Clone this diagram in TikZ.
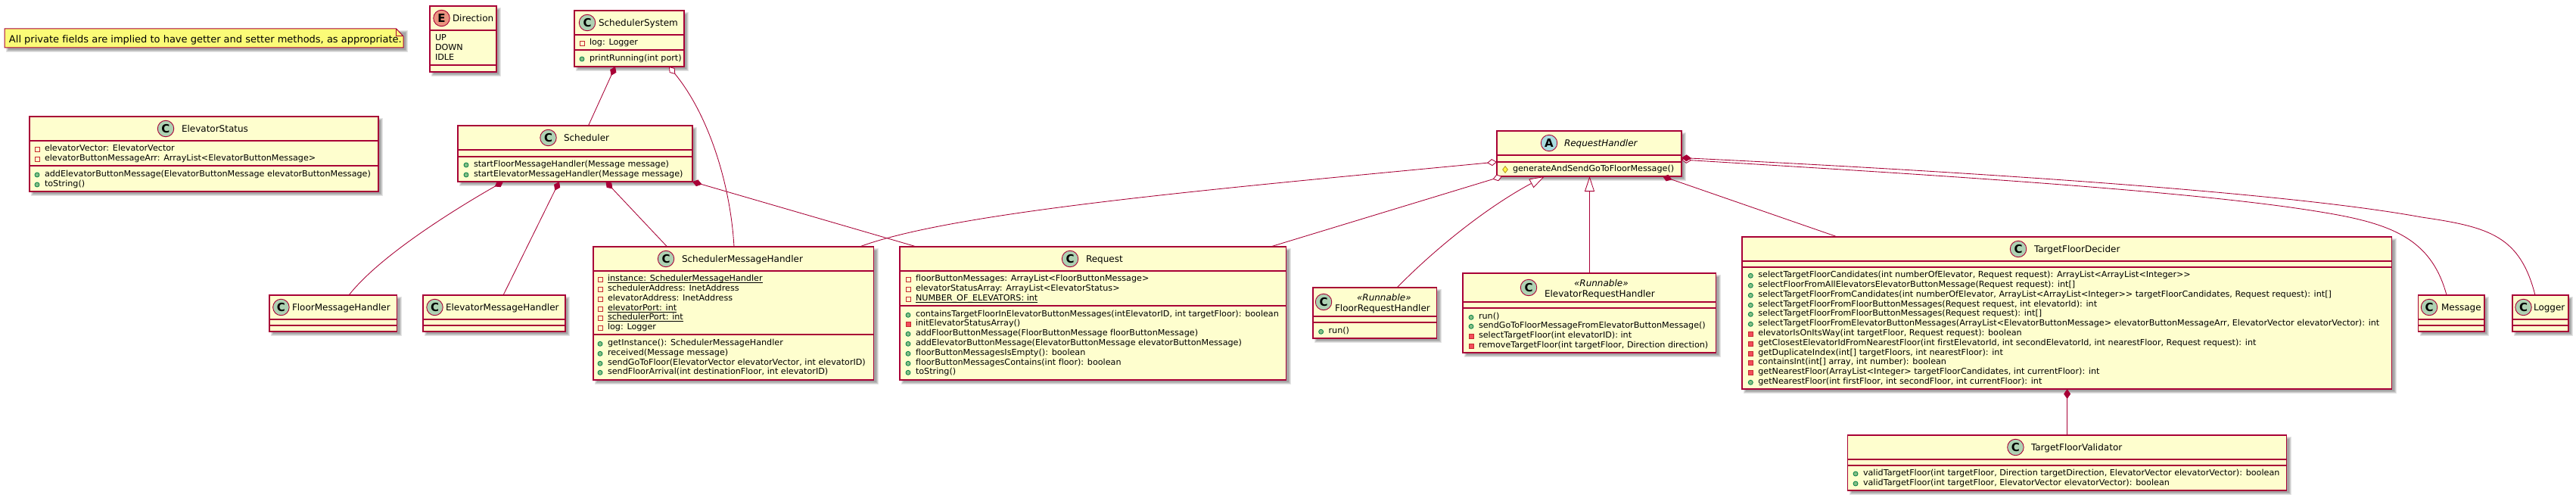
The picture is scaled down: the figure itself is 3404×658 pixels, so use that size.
\documentclass[tikz,border=0pt]{standalone}
\usepackage{fontspec}
\usetikzlibrary{arrows.meta,shapes.geometric}
\newfontfamily\umlfont[Ligatures=NoCommon]{DejaVu Sans}
\newfontfamily\umlrowfont[Ligatures=NoCommon,FakeStretch=1.015]{DejaVu Sans}
\definecolor{umlred}{HTML}{A80036}
\definecolor{umlfill}{HTML}{FEFECE}
\definecolor{notefill}{HTML}{FBFB77}
\definecolor{spotc}{HTML}{ADD1B2}
\definecolor{spote}{HTML}{EB937F}
\definecolor{spota}{HTML}{A9DCDF}
\definecolor{publine}{HTML}{038048}
\definecolor{pubfill}{HTML}{84BE84}
\definecolor{privline}{HTML}{C82930}
\definecolor{privfill}{HTML}{F24D5C}
\definecolor{protline}{HTML}{B38D22}
\definecolor{protfill}{HTML}{FFFF44}
\tikzset{
  classnode/.style={rectangle,draw=umlred,fill=umlfill,line width=1.3pt,inner sep=0pt,outer sep=0pt},
  classline/.style={draw=umlred,line width=1.3pt},
  rowtext/.style={inner sep=0pt,outer sep=0pt,anchor=base west,text=black,font=\umlrowfont\fontsize{11}{13}\selectfont},
  titletext/.style={inner sep=0pt,outer sep=0pt,anchor=base west,text=black,font=\umlfont\fontsize{12}{14}\selectfont},
  italictitle/.style={titletext,font=\umlfont\itshape\fontsize{12}{14}\selectfont},
  spot/.style={circle,draw=umlred,line width=.9pt,minimum size=21.5pt,inner sep=0pt,outer sep=0pt,text=black,font=\umlfont\bfseries\fontsize{15}{15}\selectfont},
  pubicon/.style={circle,draw=publine,fill=pubfill,line width=.8pt,minimum size=6pt,inner sep=0pt},
  privfield/.style={rectangle,draw=privline,line width=.8pt,minimum size=6pt,inner sep=0pt},
  privmethod/.style={rectangle,draw=privline,fill=privfill,line width=.8pt,minimum size=6pt,inner sep=0pt},
  proticon/.style={diamond,draw=protline,fill=protfill,line width=.8pt,minimum width=7pt,minimum height=9pt,aspect=.8,inner sep=0pt},
  conn/.style={draw=umlred,line width=.85pt},
  fulld/.style={conn,{Diamond[length=13pt,width=9pt,color=umlred,fill=umlred]}-},
  hollowd/.style={conn,{Diamond[length=13pt,width=9pt,color=umlred,fill=white]}-},
  inherit/.style={conn,-{Triangle[length=20pt,width=13pt,color=umlred,fill=white]}},
}
\newcounter{rowno}
% name x1 y1 x2 y2 line1 line2
\newcommand{\classbox}[7]{%
  \foreach \d in {2,1,0,-1}{\fill[black,opacity=.1] ({#2+4-\d},{#3+4-\d}) rectangle ({#4+4+\d},{#5+4+\d});}
  \node[classnode,minimum width={(#4-#2)*1pt},minimum height={(#5-#3)*1pt}] (#1) at ({(#2+#4)/2},{(#3+#5)/2}) {};
  \draw[classline] (#2,#6) -- (#4,#6);
  \draw[classline] (#2,#7) -- (#4,#7);
}
% name cx cy letter colour
\newcommand{\spotc}[5]{\node[spot,fill=#5] (#1) at (#2,#3) {#4};}
% name x ycentre text
\newcommand{\titlec}[4]{\node[titletext] (#1) at ({#2},{#3+4.3}) {#4};}
% x ycentre kind text
\newcommand{\umlrow}[4]{%
  \stepcounter{rowno}%
  \node[#3] (i\therowno) at ({#1-10},{#2+1}) {};
  \node[rowtext] (r\therowno) at ({#1},{#2+3.5}) {#4};
}
\newcommand{\urow}[4]{%
  \umlrow{#1}{#2}{#3}{#4}
  \draw[black,line width=.8pt] ([yshift=-2pt]r\therowno.base west) -- ([yshift=-2pt]r\therowno.base east);
}
\begin{document}
\begin{tikzpicture}[x=1pt,y=-1pt]
\useasboundingbox (0,0) rectangle (3404,658);
\fill[white] (0,0) rectangle (3404,658);

% note
\foreach \d in {2,1,0,-1}{\fill[black,opacity=.1] ({6+4-\d},{38+4-\d}) rectangle ({533+4+\d},{63+4+\d});}
\draw[fill=notefill,draw=umlred,line width=1pt] (6,38) -- (523.7,38) -- (533,48) -- (533,63) -- (6,63) -- cycle;
\draw[draw=umlred,line width=1pt] (523.7,38) -- (523.7,48) -- (533,48);
\node[rowtext,font=\umlfont\fontsize{13}{15}\selectfont] (notetext) at (12,56.5) {All private fields are implied to have getter and setter methods, as appropriate.};

% Direction
\classbox{dir}{568}{8}{656}{95}{40}{86}
\spotc{dirs}{583.5}{24}{E}{spote}
\titlec{dirt}{598}{24}{Direction}
\node[rowtext] (dir1) at (575,53.5) {UP};
\node[rowtext] (dir2) at (575,66.5) {DOWN};
\node[rowtext] (dir3) at (575,79.5) {IDLE};

% ElevatorStatus
\classbox{es}{39}{154}{500}{253}{186}{219}
\spotc{ess}{219}{170}{C}{spotc}
\titlec{est}{240}{170}{ElevatorStatus}
\umlrow{59}{196}{privfield}{elevatorVector: ElevatorVector}
\umlrow{59}{209}{privfield}{elevatorButtonMessageArr: ArrayList<ElevatorButtonMessage>}
\umlrow{59}{230}{pubicon}{addElevatorButtonMessage(ElevatorButtonMessage elevatorButtonMessage)}
\umlrow{59}{243}{pubicon}{toString()}

% SchedulerSystem
\classbox{ss}{759}{14}{904}{88}{46}{66}
\spotc{sss}{776}{30}{C}{spotc}
\titlec{sst}{791}{30}{SchedulerSystem}
\umlrow{779}{56.3}{privfield}{log: Logger}
\umlrow{779}{77}{pubicon}{printRunning(int port)}

% Scheduler
\classbox{sch}{605}{166}{915}{240}{198}{207}
\spotc{schs}{724.5}{182}{C}{spotc}
\titlec{scht}{745}{182}{Scheduler}
\umlrow{626}{217}{pubicon}{startFloorMessageHandler(Message message)}
\umlrow{626}{230}{pubicon}{startElevatorMessageHandler(Message message)}

% FloorMessageHandler
\classbox{fmh}{356}{390}{524.5}{438}{422}{430}
\spotc{fmhs}{371.4}{406}{C}{spotc}
\titlec{fmht}{386}{406}{FloorMessageHandler}

% ElevatorMessageHandler
\classbox{emh}{559}{390}{747}{438}{422}{430}
\spotc{emhs}{574.5}{406}{C}{spotc}
\titlec{emht}{589}{406}{ElevatorMessageHandler}

% SchedulerMessageHandler
\classbox{smh}{784}{326}{1154.6}{502}{358}{442}
\spotc{smhs}{880}{342}{C}{spotc}
\titlec{smht}{901}{342}{SchedulerMessageHandler}
\urow{803}{368.3}{privfield}{instance: SchedulerMessageHandler~}
\umlrow{803}{381.3}{privfield}{schedulerAddress: InetAddress}
\umlrow{803}{394.3}{privfield}{elevatorAddress: InetAddress}
\urow{803}{407.3}{privfield}{elevatorPort: int}
\urow{803}{419.3}{privfield}{schedulerPort: int}
\umlrow{803}{432.3}{privfield}{log: Logger}
\umlrow{803}{453.3}{pubicon}{getInstance(): SchedulerMessageHandler}
\umlrow{803}{466.3}{pubicon}{received(Message message)}
\umlrow{803}{479.3}{pubicon}{sendGoToFloor(ElevatorVector elevatorVector, int elevatorID)}
\umlrow{803}{491.3}{pubicon}{sendFloorArrival(int destinationFloor, int elevatorID)}

% Request
\classbox{req}{1189}{326}{1699.5}{502}{358}{404}
\spotc{reqs}{1414}{342}{C}{spotc}
\titlec{reqt}{1435}{342}{Request}
\umlrow{1210}{368.3}{privfield}{floorButtonMessages: ArrayList<FloorButtonMessage>}
\umlrow{1210}{381.3}{privfield}{elevatorStatusArray: ArrayList<ElevatorStatus>}
\urow{1210}{394.3}{privfield}{NUMBER\_OF\_ELEVATORS: int}
\umlrow{1210}{415.3}{pubicon}{containsTargetFloorInElevatorButtonMessages(intElevatorID, int targetFloor): boolean}
\umlrow{1210}{427.3}{privmethod}{initElevatorStatusArray()}
\umlrow{1210}{440.3}{pubicon}{addFloorButtonMessage(FloorButtonMessage floorButtonMessage)}
\umlrow{1210}{453.3}{pubicon}{addElevatorButtonMessage(ElevatorButtonMessage elevatorButtonMessage)}
\umlrow{1210}{466.3}{pubicon}{floorButtonMessagesIsEmpty(): boolean}
\umlrow{1210}{479.3}{pubicon}{floorButtonMessagesContains(int floor): boolean}
\umlrow{1210}{491.3}{pubicon}{toString()}

% RequestHandler
\classbox{rh}{1978}{173}{2222}{233}{205}{214}
\spotc{rhs}{2047}{189}{A}{spota}
\node[italictitle] (rht) at (2067,193.3) {RequestHandler};
\umlrow{1999}{223}{proticon}{generateAndSendGoToFloorMessage()}

% FloorRequestHandler
\classbox{frh}{1735}{380}{1898.5}{447}{418}{426}
\spotc{frhs}{1749}{399}{C}{spotc}
\node[italictitle] (frhr) at (1793,397.3) {«Runnable»};
\titlec{frht}{1764}{407}{FloorRequestHandler}
\umlrow{1755.6}{437.3}{pubicon}{run()}

% ElevatorRequestHandler
\classbox{erh}{1933}{361}{2267.6}{466}{399}{407}
\spotc{erhs}{2020}{380}{C}{spotc}
\node[italictitle] (erhr) at (2080,378.3) {«Runnable»};
\titlec{erht}{2041}{388}{ElevatorRequestHandler}
\umlrow{1954}{418.3}{pubicon}{run()}
\umlrow{1954}{430.3}{pubicon}{sendGoToFloorMessageFromElevatorButtonMessage()}
\umlrow{1954}{443.3}{privmethod}{selectTargetFloor(int elevatorID): int}
\umlrow{1954}{456.3}{privmethod}{removeTargetFloor(int targetFloor, Direction direction)}

% TargetFloorDecider
\classbox{tfd}{2302}{313}{3160.5}{514}{345}{353}
\spotc{tfds}{2667}{329}{C}{spotc}
\titlec{tfdt}{2688}{329}{TargetFloorDecider}
\umlrow{2323.3}{363.3}{pubicon}{selectTargetFloorCandidates(int numberOfElevator, Request request): ArrayList<ArrayList<Integer>>}
\umlrow{2323.3}{376.3}{pubicon}{selectFloorFromAllElevatorsElevatorButtonMessage(Request request): int[]}
\umlrow{2323.3}{389.3}{pubicon}{selectTargetFloorFromCandidates(int numberOfElevator, ArrayList<ArrayList<Integer>> targetFloorCandidates, Request request): int[]}
\umlrow{2323.3}{402.3}{pubicon}{selectTargetFloorFromFloorButtonMessages(Request request, int elevatorId): int}
\umlrow{2323.3}{414.3}{pubicon}{selectTargetFloorFromFloorButtonMessages(Request request): int[]}
\umlrow{2323.3}{427.3}{pubicon}{selectTargetFloorFromElevatorButtonMessages(ArrayList<ElevatorButtonMessage> elevatorButtonMessageArr, ElevatorVector elevatorVector): int}
\umlrow{2323.3}{440.3}{privmethod}{elevatorIsOnItsWay(int targetFloor, Request request): boolean}
\umlrow{2323.3}{453.3}{privmethod}{getClosestElevatorIdFromNearestFloor(int firstElevatorId, int secondElevatorId, int nearestFloor, Request request): int}
\umlrow{2323.3}{466.3}{privmethod}{getDuplicateIndex(int[] targetFloors, int nearestFloor): int}
\umlrow{2323.3}{478.3}{privmethod}{containsInt(int[] array, int number): boolean}
\umlrow{2323.3}{491.3}{privmethod}{getNearestFloor(ArrayList<Integer> targetFloorCandidates, int currentFloor): int}
\umlrow{2323.3}{504.3}{pubicon}{getNearestFloor(int firstFloor, int secondFloor, int currentFloor): int}

% TargetFloorValidator
\classbox{tfv}{2441.6}{575}{3021.6}{648}{607}{615}
\spotc{tfvs}{2663.4}{591}{C}{spotc}
\titlec{tfvt}{2684}{591}{TargetFloorValidator}
\umlrow{2462}{625}{pubicon}{validTargetFloor(int targetFloor, Direction targetDirection, ElevatorVector elevatorVector): boolean}
\umlrow{2462}{638}{pubicon}{validTargetFloor(int targetFloor, ElevatorVector elevatorVector): boolean}

% Message, Logger
\classbox{msg}{3195.5}{390}{3283}{438}{422}{430}
\spotc{msgs}{3210}{406}{C}{spotc}
\titlec{msgt}{3226}{406}{Message}
\classbox{lgr}{3320}{390}{3394}{438}{422}{430}
\spotc{lgrs}{3334.5}{406}{C}{spotc}
\titlec{lgrt}{3348}{406}{Logger}

% connectors
\draw[fulld] ([xshift=54pt]ss.south west) -- ([xshift=172.5pt]sch.north west);
\draw[hollowd] ([xshift=125pt]ss.south west) .. controls (935,150) and (965,240) .. ([xshift=186pt]smh.north west);
\draw[fulld] ([xshift=60pt]sch.south west) .. controls (595,280) and (500,340) .. ([xshift=105pt]fmh.north west);
\draw[fulld] ([xshift=134pt]sch.south west) -- ([xshift=106pt]emh.north west);
\draw[fulld] ([xshift=195.5pt]sch.south west) -- ([xshift=97.6pt]smh.north west);
\draw[fulld] (sch.south east) -- ([xshift=22pt]req.north west);
\draw[hollowd] ([yshift=-41pt]rh.north west) .. controls (1600,250) and (1260,280) .. ([xshift=-18.6pt]smh.north east);
\draw[hollowd] ([xshift=7pt]rh.south west) -- ([xshift=-20.5pt]req.north east);
\draw[inherit] ([xshift=111pt]frh.north west) .. controls (1900,325) and (1968,272) .. ([xshift=63pt]rh.south west);
\draw[inherit] ([xshift=167.5pt]erh.north west) -- ([xshift=122.5pt]rh.south west);
\draw[fulld] ([xshift=-25pt]rh.south east) -- ([xshift=126pt]tfd.north west);
\draw[hollowd] ([yshift=-38pt]rh.north east) .. controls (2500,228) and (2880,250) .. (3060,279) .. controls (3155,294) and (3212,312) .. ([xshift=37.5pt]msg.north west);
\draw[fulld] ([yshift=-35.5pt]rh.north east) .. controls (2500,222) and (3000,250) .. (3200,287) .. controls (3290,300) and (3330,312) .. ([xshift=30pt]lgr.north west);
\draw[fulld] ([xshift=429.6pt]tfd.south west) -- ([xshift=290pt]tfv.north west);
\end{tikzpicture}
\end{document}
